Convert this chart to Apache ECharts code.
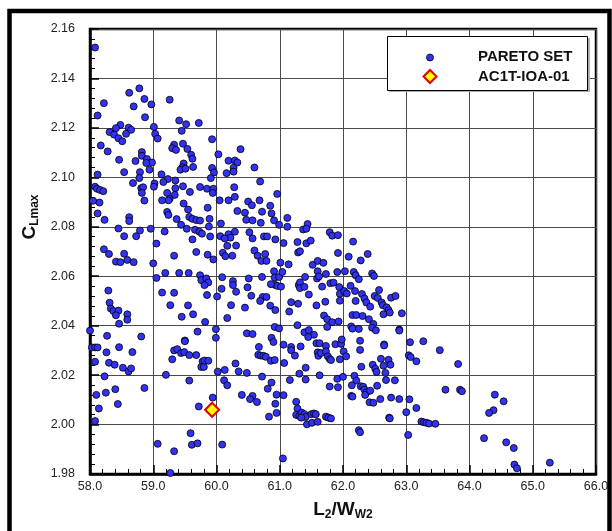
<!DOCTYPE html>
<html>
<head>
<meta charset="utf-8">
<script src="https://cdn.jsdelivr.net/npm/echarts@6/dist/echarts.min.js"></script>
<style>
  html, body { margin: 0; padding: 0; background: #fff; }
  #chart { width: 612px; height: 531px; }
</style>
</head>
<body>
<div id="chart"></div>
<script>
// Pareto-optimal designs: [L2/WW2, CLmax], grouped by L2/WW2 band
const paretoBand58to60 = [
  [58.08,2.1525],[58.62,2.1342],[58.78,2.1360],[58.22,2.1300],[58.69,2.1287],[58.86,2.1317],[58.97,2.1295],[59.26,2.1314],
  [58.12,2.1250],[58.87,2.1243],[59.41,2.1230],[59.52,2.1215],[59.72,2.1220],[59.45,2.1188],[59.01,2.1204],[58.48,2.1212],
  [58.41,2.1199],[58.61,2.1201],[58.65,2.1192],[58.31,2.1183],[58.38,2.1173],[58.57,2.1176],[58.45,2.1158],[58.51,2.1146],
  [59.03,2.1176],[59.07,2.1157],[59.93,2.1154],[58.17,2.1129],[58.28,2.1105],[59.33,2.1132],[59.30,2.1118],[59.36,2.1111],
  [59.47,2.1136],[59.54,2.1115],[59.60,2.1091],[59.62,2.1075],[58.82,2.1102],[58.82,2.1087],[58.90,2.1074],[58.98,2.1060],
  [58.89,2.1058],[58.46,2.1071],[58.72,2.1066],[58.94,2.1031],[58.54,2.1021],[58.79,2.1021],[59.48,2.1056],[59.46,2.1040],
  [59.43,2.1031],[59.51,2.1035],[59.63,2.1042],[59.93,2.1038],[59.96,2.1020],[58.12,2.1011],[59.13,2.1012],[58.78,2.0997],
  [59.23,2.0993],[59.35,2.0987],[59.16,2.0981],[59.02,2.0975],[58.68,2.0977],[59.91,2.0997],[58.08,2.0962],[58.11,2.0954],
  [58.16,2.0949],[58.21,2.0944],[58.05,2.0905],[58.15,2.0898],[58.81,2.0956],[58.84,2.0960],[58.82,2.0937],[59.01,2.0962],
  [59.35,2.0956],[59.47,2.0964],[59.58,2.0941],[59.22,2.0937],[59.34,2.0929],[59.26,2.0913],[59.24,2.0907],[59.14,2.0907],
  [59.74,2.0961],[59.85,2.0954],[59.95,2.0954],[59.94,2.0937],[58.86,2.0906],[59.48,2.0894],[58.12,2.0854],[58.23,2.0828],
  [59.22,2.0860],[59.24,2.0848],[58.62,2.0839],[58.62,2.0823],[59.55,2.0870],[59.37,2.0831],[59.44,2.0808],[59.86,2.0877],
  [59.89,2.0832],[59.57,2.0840],[59.62,2.0832],[59.68,2.0827],[59.74,2.0825],[59.88,2.0801],[58.45,2.0793],[58.54,2.0762],
  [58.73,2.0762],[58.79,2.0785],[58.96,2.0792],[59.18,2.0781],[59.05,2.0732],[59.53,2.0792],[59.62,2.0749],[59.66,2.0788],
  [59.73,2.0780],[59.77,2.0772],[59.90,2.0761],[58.22,2.0709],[58.30,2.0690],[58.54,2.0691],[58.59,2.0666],[58.41,2.0659],
  [58.48,2.0657],[58.69,2.0657],[59.33,2.0683],[59.00,2.0652],[59.68,2.0698],[59.86,2.0687],[59.95,2.0668],
  [59.05,2.0593],[59.19,2.0613],[59.41,2.0613],[59.56,2.0613],[59.74,2.0604],[59.76,2.0584],[59.84,2.0591],[59.87,2.0575],
  [59.81,2.0564],[59.85,2.0524],[58.29,2.0542],[59.14,2.0534],[59.33,2.0533],[58.31,2.0493],[58.33,2.0469],[58.37,2.0459],
  [58.45,2.0461],[58.41,2.0442],[58.59,2.0446],[58.59,2.0424],[58.46,2.0408],[59.27,2.0483],[59.55,2.0482],[59.45,2.0436],
  [59.63,2.0446],[59.82,2.0415],[58.00,2.0380],[58.27,2.0359],[58.81,2.0356],[58.03,2.0312],[58.08,2.0312],[58.12,2.0312],
  [58.26,2.0292],[58.46,2.0313],[58.67,2.0293],[58.08,2.0254],[58.30,2.0250],[58.39,2.0242],[58.52,2.0230],[58.61,2.0215],
  [58.65,2.0227],[58.23,2.0195],[58.10,2.0120],[58.25,2.0129],[58.40,2.0143],[58.86,2.0148],[58.44,2.0083],[58.14,2.0065],
  [58.08,2.0014],[59.20,2.0201],[59.30,2.0264],[59.33,2.0300],[59.38,2.0305],[59.44,2.0289],[59.49,2.0293],[59.50,2.0340],
  [59.50,2.0337],[59.57,2.0281],[59.68,2.0281],[59.70,2.0376],[59.78,2.0255],[59.76,2.0233],[59.80,2.0233],[59.81,2.0259],
  [59.87,2.0258],[59.99,2.0386],[59.99,2.0351],[60.02,2.0214],[59.57,2.0178],[59.94,2.0109],[59.72,2.0073],[59.07,1.9922],
  [59.33,1.9892],[59.59,1.9965],[59.61,1.9918],[59.70,1.9924],[59.27,1.9804]
];

const paretoBand60to62 = [
  [60.38,2.1114],[60.03,2.1093],[60.19,2.1067],[60.29,2.1068],[60.33,2.1060],[60.27,2.1039],[60.27,2.1023],[60.16,2.1017],
  [60.60,2.1040],[60.69,2.0983],[60.28,2.0960],[60.96,2.0933],[60.05,2.0907],[60.19,2.0907],[60.29,2.0921],[60.50,2.0902],
  [60.56,2.0887],[60.68,2.0907],[60.85,2.0885],[60.33,2.0864],[60.45,2.0857],[60.72,2.0861],[60.87,2.0854],[60.47,2.0828],
  [60.57,2.0826],[60.70,2.0816],[60.91,2.0826],[61.12,2.0836],[60.99,2.0808],[61.12,2.0800],[61.44,2.0811],[61.37,2.0789],
  [61.42,2.0792],[60.07,2.0813],[60.29,2.0780],[60.06,2.0762],[60.19,2.0770],[60.22,2.0756],[60.13,2.0753],[60.52,2.0778],
  [60.57,2.0753],[60.75,2.0761],[60.80,2.0761],[60.93,2.0749],[61.06,2.0734],[61.28,2.0738],[61.42,2.0733],[61.49,2.0744],
  [61.79,2.0778],[61.83,2.0764],[61.92,2.0766],[60.17,2.0723],[60.31,2.0724],[61.29,2.0696],[61.32,2.0701],[61.92,2.0694],
  [60.10,2.0695],[60.14,2.0681],[60.25,2.0683],[60.60,2.0704],[60.65,2.0683],[60.77,2.0690],[60.71,2.0662],[60.79,2.0662],
  [61.01,2.0655],[61.14,2.0648],[61.52,2.0646],[61.60,2.0662],[61.69,2.0654],
  [60.09,2.0596],[60.26,2.0580],[60.26,2.0564],[60.51,2.0591],[60.49,2.0555],[60.72,2.0597],[60.91,2.0620],[60.92,2.0595],
  [60.99,2.0597],[60.93,2.0565],[60.96,2.0561],[61.02,2.0558],[61.04,2.0617],[60.86,2.0568],[60.08,2.0549],[60.31,2.0537],
  [60.55,2.0521],[60.01,2.0518],[60.73,2.0516],[60.79,2.0516],[60.69,2.0500],[60.85,2.0481],[60.93,2.0463],[60.23,2.0483],
  [60.45,2.0473],[60.17,2.0431],[61.15,2.0457],[61.18,2.0495],[61.29,2.0489],[61.30,2.0564],[61.32,2.0575],[61.32,2.0552],
  [61.39,2.0557],[61.40,2.0597],[61.46,2.0526],[61.59,2.0591],[61.60,2.0620],[61.62,2.0599],[61.67,2.0558],[61.73,2.0609],
  [61.80,2.0572],[61.85,2.0574],[61.91,2.0617],[61.94,2.0556],[61.95,2.0529],[61.95,2.0501],[61.58,2.0482],[61.72,2.0497],
  [61.70,2.0441],[61.75,2.0426],[61.83,2.0414],[61.93,2.0417],[61.75,2.0395],[61.28,2.0402],[61.39,2.0373],[61.46,2.0382],
  [61.54,2.0363],[61.45,2.0354],[61.58,2.0329],[61.63,2.0329],[61.73,2.0318],[61.88,2.0325],[61.97,2.0326],[61.98,2.0344],
  [60.48,2.0369],[60.57,2.0366],[60.92,2.0395],[60.99,2.0389],[60.87,2.0351],[60.90,2.0334],[60.67,2.0314],[60.66,2.0282],
  [60.70,2.0279],[60.74,2.0278],[60.78,2.0274],[60.86,2.0258],[60.92,2.0261],[61.06,2.0323],[61.18,2.0314],[61.18,2.0301],
  [61.24,2.0279],[61.33,2.0316],[61.07,2.0249],[61.60,2.0292],[61.61,2.0278],[61.65,2.0289],[61.73,2.0296],[61.76,2.0276],
  [61.79,2.0265],[61.81,2.0261],[61.95,2.0264],[61.41,2.0230],[61.31,2.0206],[60.30,2.0247],[60.35,2.0215],[60.48,2.0209],
  [60.13,2.0221],[60.12,2.0179],[60.17,2.0159],[60.72,2.0194],[61.16,2.0180],[61.41,2.0182],[61.63,2.0199],[61.91,2.0185],
  [61.92,2.0151],[61.79,2.0154],[60.87,2.0170],[60.81,2.0145],[60.40,2.0120],[60.57,2.0116],[60.53,2.0103],[60.64,2.0091],
  [60.95,2.0121],[61.06,2.0119],[60.93,2.0084],[60.95,2.0047],[60.83,2.0032],[61.26,2.0092],[61.28,2.0065],[61.26,2.0039],
  [61.31,2.0035],[61.35,2.0048],[61.39,2.0042],[61.41,2.0031],[61.43,2.0001],[61.50,2.0042],[61.51,2.0007],[61.54,2.0045],
  [61.57,2.0042],[61.60,2.0011],[61.34,2.0028],[61.73,2.0032],[61.77,2.0028],[61.81,2.0025],[60.09,1.9919],[61.05,1.9863]
];

const paretoBand62to66 = [
  [62.16,2.0740],[62.09,2.0679],[62.28,2.0664],[62.39,2.0690],
  [62.03,2.0620],[62.17,2.0617],[62.20,2.0604],[62.25,2.0588],[62.46,2.0611],[62.49,2.0601],[62.02,2.0540],[62.12,2.0561],
  [62.06,2.0530],[62.19,2.0540],[62.30,2.0528],[62.34,2.0510],[62.20,2.0500],[62.37,2.0494],[62.43,2.0477],[62.50,2.0520],
  [62.57,2.0544],[62.55,2.0512],[62.61,2.0494],[62.63,2.0483],[62.69,2.0474],[62.72,2.0463],[62.74,2.0453],[62.64,2.0446],
  [62.76,2.0513],[62.83,2.0520],[62.93,2.0450],[62.15,2.0443],[62.21,2.0443],[62.31,2.0439],[62.41,2.0426],[62.48,2.0407],
  [62.46,2.0392],[62.52,2.0381],[62.13,2.0397],[62.15,2.0388],[62.25,2.0387],[62.89,2.0384],[62.89,2.0380],[62.27,2.0339],
  [62.27,2.0302],[62.65,2.0324],[62.65,2.0320],[63.06,2.0333],[63.27,2.0337],[63.53,2.0301],[62.01,2.0296],[62.05,2.0276],
  [62.60,2.0266],[62.72,2.0262],[62.75,2.0242],[62.64,2.0238],[62.47,2.0242],[62.51,2.0226],[62.53,2.0213],[62.29,2.0234],
  [62.67,2.0209],[63.04,2.0280],[63.07,2.0273],[63.16,2.0256],[63.82,2.0245],[62.18,2.0197],[62.00,2.0193],[62.21,2.0178],
  [62.14,2.0159],[62.28,2.0155],[62.32,2.0153],[62.34,2.0141],[62.37,2.0130],[62.35,2.0120],[62.43,2.0137],[62.54,2.0157],
  [62.68,2.0180],[62.82,2.0179],[62.13,2.0116],[62.15,2.0113],[62.42,2.0090],[62.48,2.0088],[62.59,2.0103],[62.76,2.0109],
  [62.89,2.0103],[63.05,2.0102],[63.16,2.0067],[63.00,2.0050],[62.73,2.0028],[62.74,2.0025],[63.62,2.0141],[63.85,2.0141],
  [63.88,2.0135],[63.24,2.0012],[63.28,2.0009],[63.32,2.0007],[63.36,2.0004],[63.46,2.0003],[62.25,1.9977],[62.27,1.9969],
  [63.03,1.9958],
  [64.40,2.0121],[64.54,2.0094],[64.38,2.0058],[64.31,2.0047],[64.23,1.9945],[64.58,1.9928],[64.70,1.9905],[64.71,1.9838],
  [64.75,1.9823],[65.27,1.9846]
];

// Reference configuration
const baselineName = 'AC1T-IOA-01';
const baselinePoint = [[59.93, 2.006]];
const paretoName = 'PARETO SET';

// Axis ranges and tick steps
const xRange = [58, 66], xStep = 1;
const yRange = [1.98, 2.16], yStep = 0.02;

const paretoSet = paretoBand58to60.concat(paretoBand60to62, paretoBand62to66);

const FONT = '"Liberation Sans", Arial, Helvetica, sans-serif';
const DOT = '#3232f4';

const chart = echarts.init(document.getElementById('chart'), null, { renderer: 'canvas' });

chart.setOption({
  backgroundColor: '#ffffff',
  animation: false,
  grid: {
    left: 90, right: 16, top: 29, bottom: 57,
    show: true, borderColor: '#000', borderWidth: 2.5, backgroundColor: 'transparent'
  },
  xAxis: {
    type: 'value', min: xRange[0], max: xRange[1], interval: xStep,
    axisLine: { show: true, lineStyle: { color: '#000', width: 2.5 } },
    axisTick: { show: true, inside: true, length: 9, lineStyle: { color: '#000', width: 1.5 } },
    minorTick: { show: true, splitNumber: 5, length: 5, lineStyle: { color: '#000', width: 1 } },
    splitLine: { show: true, lineStyle: { color: '#4a4a4a', width: 1 } },
    axisLabel: {
      margin: 6, color: '#222', fontFamily: FONT, fontSize: 12.5,
      formatter: v => v.toFixed(1)
    }
  },
  yAxis: {
    type: 'value', min: yRange[0], max: yRange[1], interval: yStep,
    axisLine: { show: true, lineStyle: { color: '#000', width: 2.5 } },
    axisTick: { show: true, inside: true, length: 9, lineStyle: { color: '#000', width: 1.5 } },
    minorTick: { show: true, splitNumber: 5, length: 5, lineStyle: { color: '#000', width: 1 } },
    splitLine: { show: true, lineStyle: { color: '#4a4a4a', width: 1 } },
    axisLabel: {
      margin: 15, color: '#222', fontFamily: FONT, fontSize: 12.5,
      formatter: v => v.toFixed(2)
    }
  },
  series: [
    {
      name: paretoName, type: 'scatter', data: paretoSet,
      symbol: 'circle', symbolSize: 7,
      itemStyle: { color: DOT, borderColor: '#000', borderWidth: 0.8, opacity: 1 },
      z: 3
    },
    {
      name: baselineName, type: 'scatter', data: baselinePoint,
      symbol: 'diamond', symbolSize: 14,
      itemStyle: { color: '#ffff00', borderColor: '#e00000', borderWidth: 2, opacity: 1 },
      z: 4
    }
  ],
  graphic: [
    // outer frame
    {
      type: 'rect', shape: { x: 9.5, y: 11, width: 600, height: 560 },
      style: { fill: 'none', stroke: '#000', lineWidth: 4.5 }, z: 10
    },
    // legend box with shadow
    {
      type: 'rect', shape: { x: 389, y: 38, width: 201, height: 54 },
      style: { fill: '#b0b0b0' }, z: 20
    },
    {
      type: 'rect', shape: { x: 387.5, y: 36.5, width: 200, height: 54 },
      style: { fill: '#fff', stroke: '#000', lineWidth: 1 }, z: 21
    },
    {
      type: 'circle', shape: { cx: 430, cy: 57.5, r: 3.5 },
      style: { fill: DOT, stroke: '#000', lineWidth: 0.8 }, z: 22
    },
    {
      type: 'polygon', shape: { points: [[430, 70], [436.5, 76.5], [430, 83], [423.5, 76.5]] },
      style: { fill: '#ffff00', stroke: '#e00000', lineWidth: 2 }, z: 22
    },
    {
      type: 'text', x: 478, y: 57, z: 22,
      style: { text: paretoName, font: 'bold 15px ' + FONT, fill: '#111', verticalAlign: 'middle', align: 'left' }
    },
    {
      type: 'text', x: 478, y: 77, z: 22,
      style: { text: baselineName, font: 'bold 15px ' + FONT, fill: '#111', verticalAlign: 'middle', align: 'left' }
    },
    // x axis title: L2/WW2
    {
      type: 'text', x: 343, y: 510, z: 22,
      style: {
        text: '{m|L}{s|2}{m|/W}{s|W2}',
        align: 'center', verticalAlign: 'middle',
        rich: {
          m: { font: 'bold 19px ' + FONT, fill: '#111', lineHeight: 22, verticalAlign: 'middle' },
          s: { font: 'bold 12px ' + FONT, fill: '#111', lineHeight: 12, verticalAlign: 'bottom' }
        }
      }
    },
    // y axis title: CLmax
    {
      type: 'text', x: 30, y: 217, rotation: Math.PI / 2, z: 22,
      style: {
        text: '{m|C}{s|Lmax}',
        align: 'center', verticalAlign: 'middle',
        rich: {
          m: { font: 'bold 19px ' + FONT, fill: '#111', lineHeight: 22, verticalAlign: 'middle' },
          s: { font: 'bold 12px ' + FONT, fill: '#111', lineHeight: 12, verticalAlign: 'bottom' }
        }
      }
    }
  ]
});
</script>
</body>
</html>
